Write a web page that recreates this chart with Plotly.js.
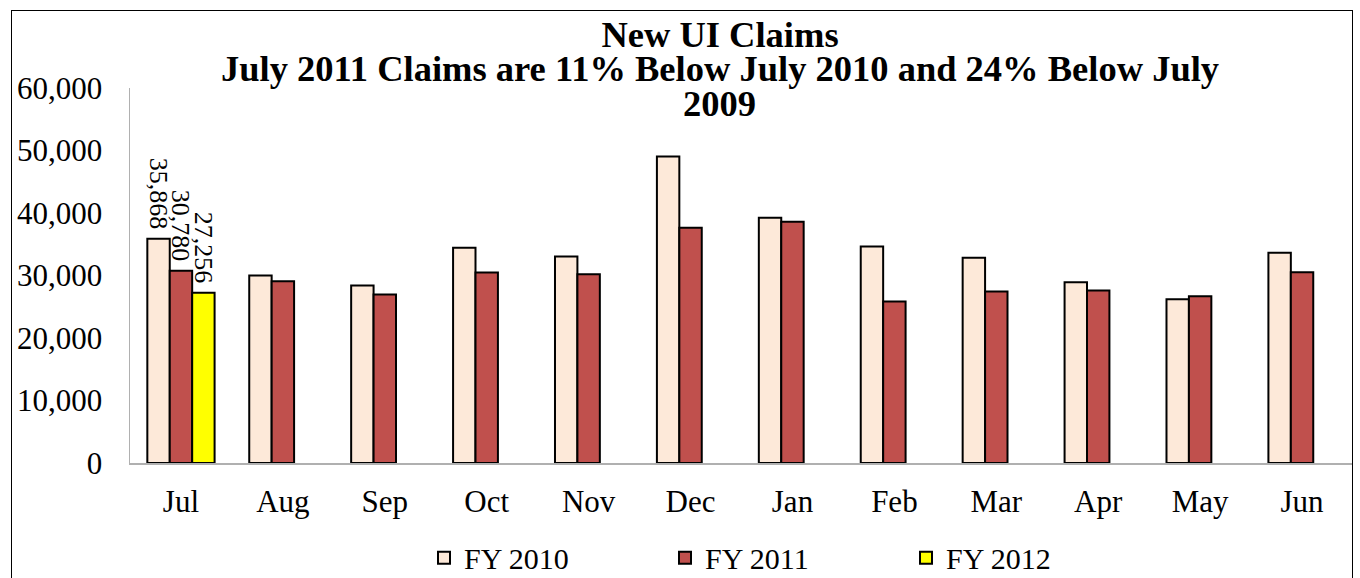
<!DOCTYPE html>
<html>
<head>
<meta charset="utf-8">
<script src="https://cdn.plot.ly/plotly-3.0.1.min.js"></script>
<style>
  html, body { margin: 0; padding: 0; background: #fff; overflow: hidden; }
  #chart { position: absolute; left: 0; top: 0; width: 1360px; height: 578px; }
  #frame { position: absolute; left: 11px; top: 10px; width: 1340px; height: 640px;
           border: 1.5px solid #000; pointer-events: none; }
</style>
</head>
<body>
<div id="chart"></div>
<div id="frame"></div>
<script>
const months = ['Jul','Aug','Sep','Oct','Nov','Dec','Jan','Feb','Mar','Apr','May','Jun'];
const fy2010 = [35868, 30000, 28400, 34430, 33040, 49040, 39230, 34640, 32830, 28930, 26210, 33630];
const fy2011 = [30780, 29090, 26960, 30480, 30210, 37630, 38590, 25840, 27440, 27600, 26690, 30530];
const fy2012 = [27256, null, null, null, null, null, null, null, null, null, null, null];
const labeledMonths = ['Jul'];
const titleLines = ['New UI Claims', 'July 2011 Claims are 11% Below July 2010 and 24% Below July', '2009'];

const serif = 'Liberation Serif, Times New Roman, serif';
function labels(vals) {
  return vals.map((v, i) => (labeledMonths.includes(months[i]) && v != null) ? v.toLocaleString('en-US') + '\u00a0' : '');
}
function barTrace(name, vals, color) {
  return {
    type: 'bar', name: name, x: months, y: vals,
    marker: { color: color, line: { color: '#000', width: 2 } },
    text: labels(vals), textposition: 'outside', textangle: 90,
    constraintext: 'none', cliponaxis: false,
    textfont: { family: serif, size: 26, color: '#000' },
    hoverinfo: 'x+y'
  };
}
const data = [
  barTrace('FY 2010', fy2010, '#FDE9D9'),
  barTrace('FY 2011', fy2011, '#C0504D'),
  barTrace('FY 2012', fy2012, '#FFFF00')
];
const titleFont = { family: serif, size: 36.5, color: '#000', weight: 'bold' };
const layout = {
  width: 1360, height: 578,
  margin: { l: 130, r: 7, t: 88, b: 115, autoexpand: false },
  paper_bgcolor: '#fff', plot_bgcolor: '#fff',
  font: { family: serif, color: '#000' },
  barmode: 'group', bargap: 0.34, bargroupgap: 0,
  title: {
    text: titleLines[0],
    font: titleFont,
    xref: 'container', x: 720 / 1360, xanchor: 'center',
    yref: 'container', y: 0.9408, yanchor: 'middle'
  },
  annotations: [
    { text: titleLines[1], xref: 'paper', yref: 'paper', x: 0.4824, y: 1.0529,
      xanchor: 'center', yanchor: 'middle', showarrow: false, font: titleFont },
    { text: titleLines[2], xref: 'paper', yref: 'paper', x: 0.4824, y: 0.9594,
      xanchor: 'center', yanchor: 'middle', showarrow: false, font: titleFont }
  ],
  xaxis: {
    type: 'category', showgrid: false, zeroline: false,
    showline: true, linecolor: '#b0b0b0', linewidth: 1.5,
    ticks: '', tickfont: { family: serif, size: 31, color: '#000' },
    ticklabelstandoff: 10
  },
  yaxis: {
    range: [0, 60000], dtick: 10000, tickformat: ',d',
    showgrid: false, zeroline: false,
    showline: true, linecolor: '#b0b0b0', linewidth: 1.5,
    ticks: '', tickfont: { family: serif, size: 31, color: '#000' },
    ticklabelstandoff: 20
  },
  showlegend: true,
  legend: {
    orientation: 'h', x: 0.2404, xanchor: 'left', xref: 'paper',
    y: -0.322, yanchor: 'bottom', yref: 'paper',
    font: { family: serif, size: 30, color: '#000' },
    itemwidth: 30, entrywidth: 196, traceorder: 'normal'
  }
};
Plotly.newPlot('chart', data, layout, { displayModeBar: false, staticPlot: true });
</script>
</body>
</html>
